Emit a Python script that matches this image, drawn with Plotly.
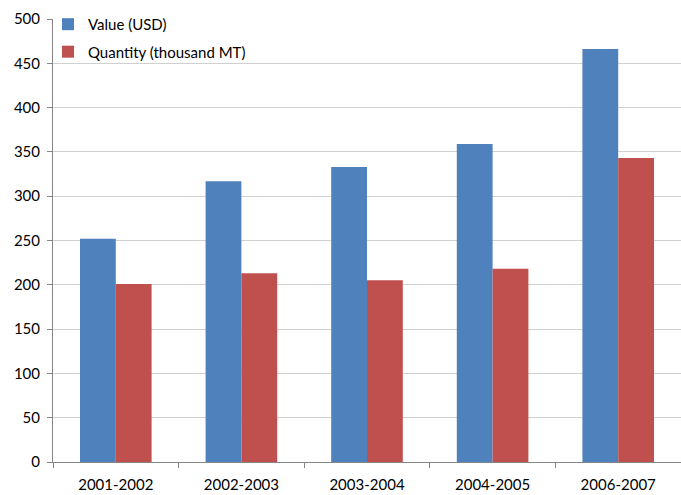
import plotly.graph_objects as go

categories = ["2001-2002", "2002-2003", "2003-2004", "2004-2005", "2006-2007"]
value_usd = [252, 317, 333, 359, 466]
quantity_mt = [201, 213, 205, 218, 343]
y_ticks = [0, 50, 100, 150, 200, 250, 300, 350, 400, 450, 500]

fig = go.Figure()
fig.add_trace(go.Bar(x=categories, y=value_usd, name="Value (USD)", legendgroup="a",
                     marker=dict(color="#4F81BD", line=dict(width=0))))
fig.add_trace(go.Bar(x=categories, y=quantity_mt, name="Quantity (thousand MT)", legendgroup="b",
                     marker=dict(color="#C0504D", line=dict(width=0))))

fig.update_layout(
    width=681, height=495,
    margin=dict(l=53, r=0, t=19, b=33),
    paper_bgcolor="white", plot_bgcolor="white",
    barmode="group", bargap=0.43, bargroupgap=0,
    font=dict(family="Lato, Open Sans, sans-serif", size=15, color="#000000"),
    legend=dict(x=-0.008, y=1.025, xanchor="left", yanchor="top",
                bgcolor="rgba(0,0,0,0)", font=dict(size=15),
                tracegroupgap=5, itemwidth=30),
    showlegend=True,
)
fig.update_xaxes(showline=True, linecolor="#868686", linewidth=1, automargin=False,
                 ticks="outside", tickson="boundaries", ticklen=5, tickcolor="#868686",
                 ticklabelstandoff=9, showgrid=False)
fig.update_yaxes(range=[0, 500], tickvals=y_ticks, showline=True, linecolor="#868686", linewidth=1,
                 automargin=False,
                 ticks="outside", ticklen=5, tickcolor="#868686",
                 showgrid=True, gridcolor="#D0D0D0", gridwidth=1, zeroline=False,
                 ticklabelstandoff=4)

fig.write_html("out.html")
